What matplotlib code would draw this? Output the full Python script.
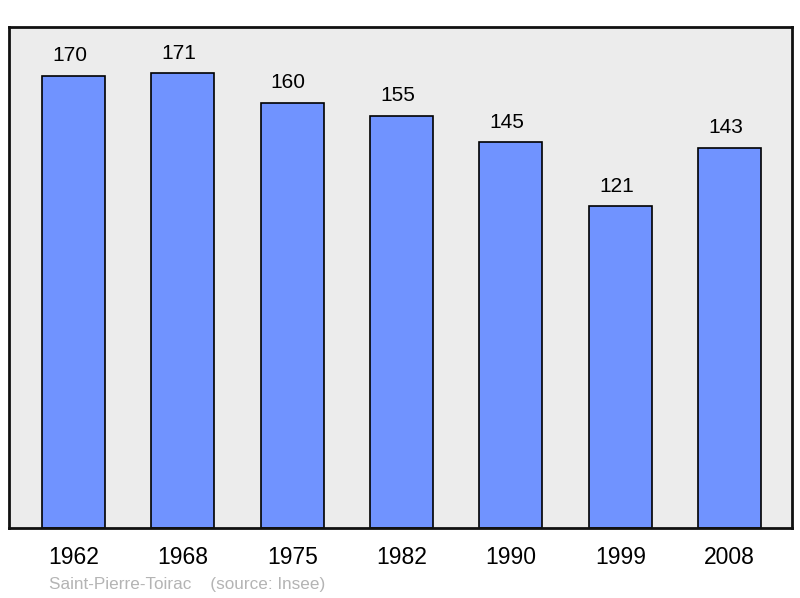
import matplotlib
matplotlib.use("Agg")
import matplotlib.pyplot as plt

years = ["1962", "1968", "1975", "1982", "1990", "1999", "2008"]
population = [170, 171, 160, 155, 145, 121, 143]

plt.rcParams['font.family'] = ['Liberation Sans', 'DejaVu Sans']

fig = plt.figure(figsize=(8, 5.98), dpi=100)
ax = fig.add_axes([9/800, 70/598, 783/800, 501/598])
ax.set_facecolor('#ececec')

x = list(range(len(years)))
ax.bar(x, population, width=0.576, color='#7093ff', edgecolor='black', linewidth=1.2, zorder=2)
for xi, v in zip(x, population):
    ax.annotate(str(v), (xi, v), xytext=(-4, 20), textcoords='offset pixels',
                ha='center', va='center', fontsize=15, color='black')

ax.set_xlim(-0.59, 6.57)
ax.set_ylim(0, 188.4)
ax.set_xticks(x)
ax.set_xticklabels(years, fontsize=16.5)
ax.tick_params(axis='x', length=0, pad=13)
ax.set_yticks([])
for s in ax.spines.values():
    s.set_linewidth(2)
    s.set_color('#111111')

fig.text(49/800, 1 - 584/598, "Saint-Pierre-Toirac    (source: Insee)", fontsize=12.3,
         color='#b4b4b4', ha='left', va='center')

fig.savefig("out.png", dpi=100)
